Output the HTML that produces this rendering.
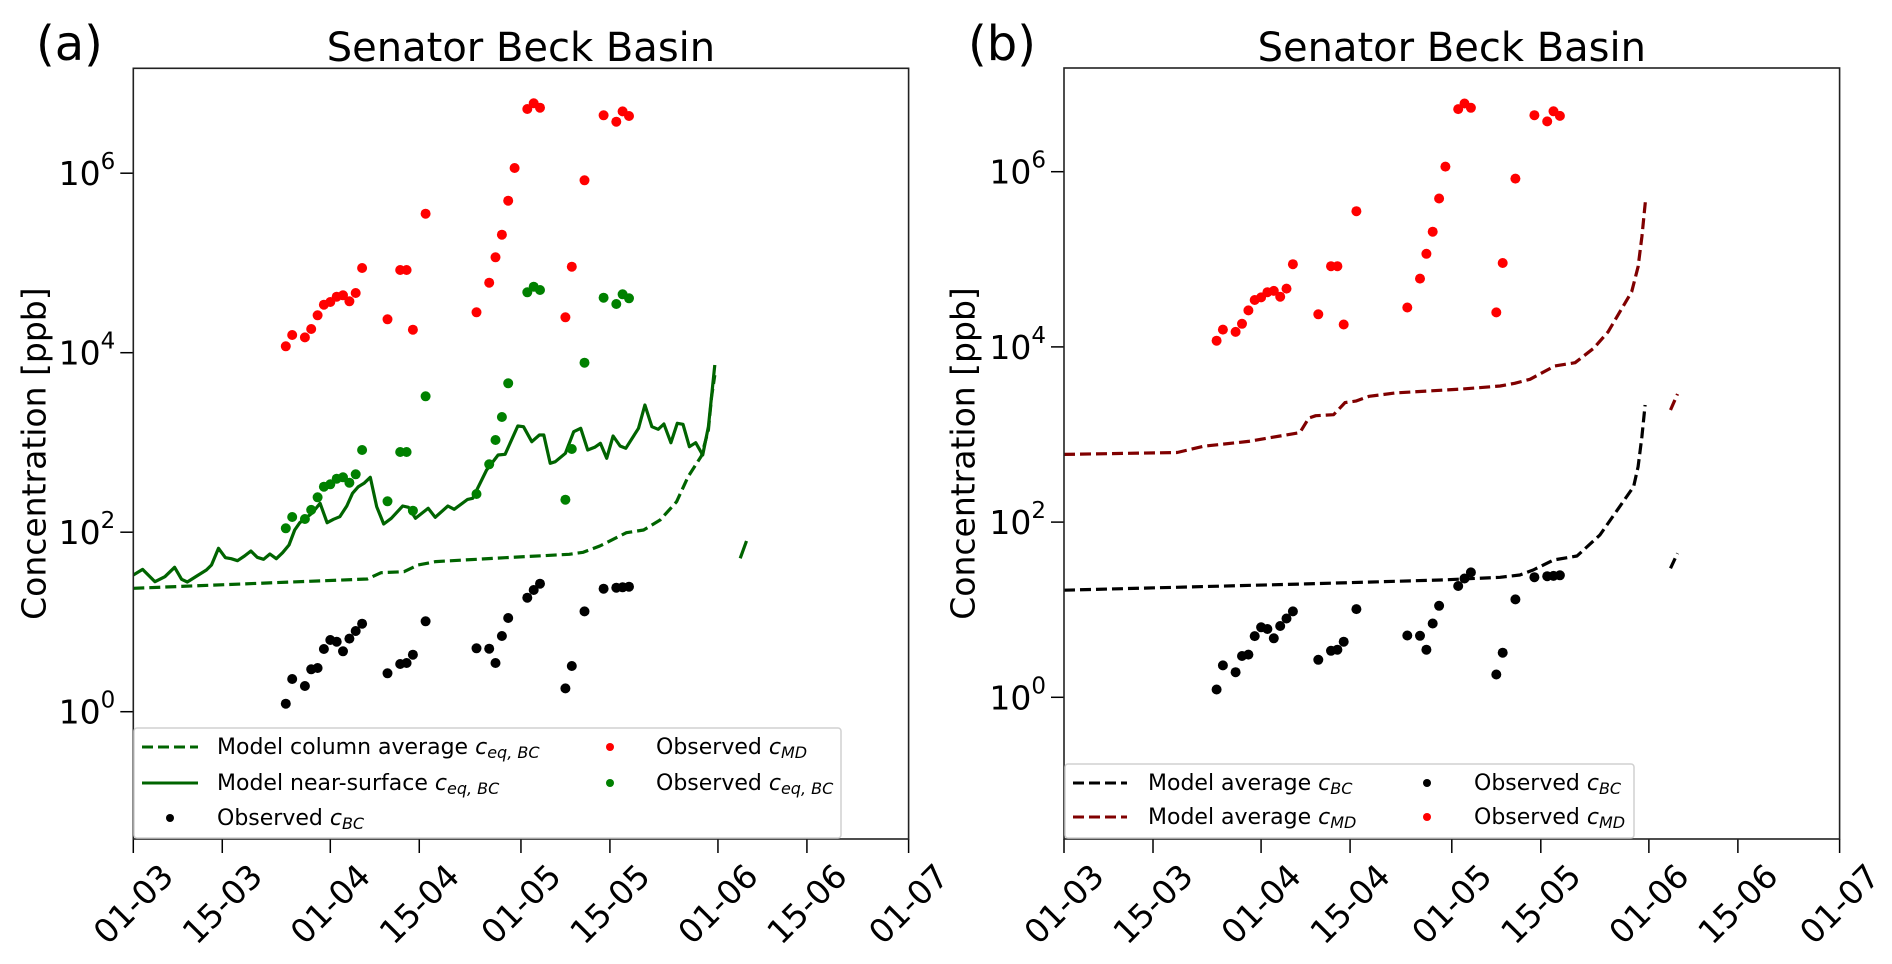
<!DOCTYPE html>
<html><head><meta charset="utf-8"><style>
html,body{margin:0;padding:0;background:#fff;}
svg{display:block;font-family:"DejaVu Sans","Liberation Sans",sans-serif;}
</style></head><body>
<svg id="chart" width="1892" height="964" viewBox="0 0 1892 964"></svg>
<script>
// ---- data (log10 of concentration in ppb; days since 01-03) ----
const tickDays = [0,14,31,45,61,75,92,106,122];
const tickLabels = ["01-03","15-03","01-04","15-04","01-05","15-05","01-06","15-06","01-07"];
const yTickExps = [0,2,4,6];
const mdDays = [24,25,27,28,29,30,31,32,33,34,35,36,40,42,43,44,46,54,56,57,58,59,60,62,63,64,68,69,71,74,76,77,78];
const mdLog = [4.071,4.197,4.171,4.264,4.417,4.535,4.565,4.624,4.639,4.573,4.665,4.944,4.372,4.921,4.921,4.256,5.549,4.450,4.780,5.063,5.315,5.694,6.058,6.715,6.779,6.730,4.394,4.958,5.921,6.645,6.574,6.689,6.637];
const bcDays = [24,25,27,28,29,30,31,32,33,34,35,36,40,42,43,44,46,54,56,57,58,59,62,63,64,68,69,71,74,76,77,78];
const bcLog = [0.089,0.364,0.286,0.472,0.487,0.699,0.799,0.780,0.673,0.814,0.899,0.981,0.428,0.531,0.543,0.635,1.007,0.706,0.702,0.543,0.843,1.044,1.270,1.356,1.426,0.260,0.509,1.118,1.371,1.382,1.386,1.393];
const eqLog = [2.043,2.169,2.147,2.248,2.389,2.507,2.534,2.596,2.612,2.552,2.645,2.916,2.344,2.894,2.894,2.240,3.514,2.426,2.757,3.027,3.284,3.659,4.673,4.735,4.699,2.362,2.927,3.889,4.613,4.543,4.651,4.606];
const surfDays = [0,1.47,3.41,4.98,6.5,7.6,8.5,10,11.5,12.3,13.4,14.5,15.4,16.4,17.5,18.5,19.5,20.5,21.5,22.5,23.5,24.5,25.4,26.2,27.1,28.1,29.4,30.5,31.5,32.5,33.6,34.5,35.4,36.3,37.3,38.3,39.4,40.6,42.4,43.3,44.4,46.4,47.5,49.5,50.5,52.6,53.4,55.6,57.4,58.5,60.5,61.4,62.7,63.9,64.6,65.6,66.4,68,69.3,70.4,71.5,72.6,73.5,74.5,75.5,76.6,77.5,79.5,80.5,81.6,82.6,83.5,84.6,85.6,86.5,87.5,88.5,89.6,90.5,91.5];
const surfLog = [1.523,1.586,1.449,1.504,1.609,1.475,1.445,1.512,1.579,1.635,1.821,1.716,1.705,1.683,1.735,1.791,1.720,1.698,1.757,1.705,1.772,1.857,2.025,2.106,2.155,2.211,2.322,2.106,2.144,2.173,2.292,2.433,2.507,2.545,2.612,2.284,2.091,2.155,2.292,2.277,2.155,2.266,2.166,2.292,2.255,2.366,2.378,2.693,2.860,2.868,3.183,3.176,3.008,3.083,3.083,2.768,2.786,2.879,3.120,3.158,2.916,2.946,2.990,2.823,3.072,2.960,2.935,3.158,3.417,3.176,3.146,3.206,2.997,3.213,3.202,2.953,2.997,2.860,3.176,3.863];
const colDays = [0,36.8,39,42.6,44.8,47.6,58.5,68.6,70.8,73.4,77.6,80.3,82.9,85.5,87.3,89.4,90.5,91,91.5];
const colLog = [1.375,1.479,1.549,1.560,1.635,1.672,1.716,1.754,1.776,1.846,1.994,2.025,2.136,2.340,2.618,2.849,3.139,3.51,3.75];
const colTailDays = [95.5,96.5];
const colTailLog = [1.709,1.902];
const mdModDays = [0,17.8,22,29,37.1,38.5,39.6,42.4,44.2,45.9,48,52.2,62.7,68.6,70.9,73.3,77.2,80.4,83.3,85.6,89.3,90.3,90.9,91.5];
const mdModLog = [2.773,2.795,2.866,2.921,3.022,3.187,3.215,3.226,3.364,3.381,3.436,3.475,3.519,3.554,3.584,3.630,3.782,3.820,3.984,4.174,4.630,4.915,5.258,5.696];
const mdTailDays = [95.4,96.5];
const mdTailLog = [3.280,3.462];
const bcModDays = [0,38.1,59.2,68.6,71.7,73.8,77.0,80.7,84.3,89.6,90.3,90.9,91.4];
const bcModLog = [1.223,1.295,1.339,1.370,1.396,1.453,1.567,1.613,1.853,2.404,2.632,2.975,3.337];
const bcTailDays = [95.4,96.5];
const bcTailLog = [1.473,1.644];

const NS = "http://www.w3.org/2000/svg";
const svg = document.getElementById('chart');
function mk(tag, attrs, parent){ const e=document.createElementNS(NS,tag); for(const k in attrs) e.setAttribute(k,attrs[k]); (parent||svg).appendChild(e); return e; }

const panels = [
 {id:'a', L:133.3, R:908.6, T:68.3, B:839, y0:711.7, dec:89.75, label:'(a)', labelX:36, ylabX:34},
 {id:'b', L:1064, R:1839.6, T:68, B:839, y0:697.3, dec:87.6, label:'(b)', labelX:968, ylabX:963}
];
panels.forEach(p=>{ p.xs = d => p.L + d*(p.R-p.L)/122; p.ys = lg => p.y0 - lg*p.dec; });

function drawLine(p, g, days, logs, color, dashed, name){
  const pts = days.map((d,i)=>p.xs(d).toFixed(1)+','+p.ys(logs[i]).toFixed(1)).join(' ');
  const l = mk('polyline',{points:pts,fill:'none',stroke:color,'stroke-width':3.2,'stroke-linejoin':'round','clip-path':'url(#clip-'+p.id+')'},g);
  if(dashed) l.setAttribute('stroke-dasharray','11 5');
  
  
}
function drawDots(p, g, days, logs, color, name){
  days.forEach((d,i)=>{
    const c = mk('circle',{cx:p.xs(d).toFixed(1),cy:p.ys(logs[i]).toFixed(1),r:5,fill:color,'clip-path':'url(#clip-'+p.id+')'},g);
    
    
  });
}

const defs = mk('defs',{});
panels.forEach(p=>{
  const cp = mk('clipPath',{id:'clip-'+p.id},defs);
  mk('rect',{x:p.L,y:p.T,width:p.R-p.L,height:p.B-p.T},cp);
  const g = mk('g',{});
  
  

  const t = mk('text',{x:(p.L+p.R)/2,y:61,'text-anchor':'middle','font-size':40,fill:'#000'},g);
  t.textContent = 'Senator Beck Basin';
  
  
  const pl = mk('text',{x:p.labelX,y:60,'font-size':48,fill:'#000'},g);
  pl.textContent = p.label;
  
  

  const yl = mk('text',{x:p.ylabX,y:(p.T+p.B)/2,'text-anchor':'middle','dominant-baseline':'central','font-size':33,transform:'rotate(-90 '+p.ylabX+' '+((p.T+p.B)/2)+')'},g);
  yl.textContent = 'Concentration [ppb]';
  
  

  yTickExps.forEach(e=>{
    const y = p.ys(e);
    mk('line',{x1:p.L-13,x2:p.L,y1:y,y2:y,stroke:'#000','stroke-width':1.5},g);
    const tx = mk('text',{x:p.L-18,y:y+12,'text-anchor':'end','font-size':33},g);
    const a = mk('tspan',{},tx); a.textContent='10';
    const b = mk('tspan',{dy:-16,'font-size':23},tx); b.textContent=String(e);
    
    
  });
  tickDays.forEach((d,i)=>{
    const x = p.xs(d);
    mk('line',{x1:x,x2:x,y1:p.B,y2:p.B+14,stroke:'#000','stroke-width':1.5},g);
    const tx = mk('text',{x:x,y:904,'text-anchor':'middle','dominant-baseline':'central','font-size':33,transform:'rotate(-45 '+x+' 904)'},g);
    tx.textContent = tickLabels[i];
    
    
  });

  if(p.id==='a'){
    drawLine(p,g,colDays,colLog,'#006400',true,'model-column-average-line');
    drawLine(p,g,colTailDays,colTailLog,'#006400',false,'model-column-average-tail');
    drawLine(p,g,surfDays,surfLog,'#006400',false,'model-near-surface-line');
    drawDots(p,g,mdDays,mdLog,'#ff0000','observed-md-point');
    drawDots(p,g,bcDays,eqLog,'#008000','observed-eq-bc-point');
    drawDots(p,g,bcDays,bcLog,'#000000','observed-bc-point');
  } else {
    drawLine(p,g,mdModDays,mdModLog,'#800000',true,'model-average-md-line');
    drawLine(p,g,mdTailDays,mdTailLog,'#800000',true,'model-average-md-tail');
    drawLine(p,g,bcModDays,bcModLog,'#000000',true,'model-average-bc-line');
    drawLine(p,g,bcTailDays,bcTailLog,'#000000',true,'model-average-bc-tail');
    drawDots(p,g,mdDays,mdLog,'#ff0000','observed-md-point');
    drawDots(p,g,bcDays,bcLog,'#000000','observed-bc-point');
  }
  const fr = mk('rect',{x:p.L,y:p.T,width:p.R-p.L,height:p.B-p.T,fill:'none',stroke:'#222','stroke-width':1.6},g);
  
  
});

function legText(g,x,y,main,sub,name){
  const t = mk('text',{x:x,y:y,'dominant-baseline':'central','font-size':22},g);
  const a = mk('tspan',{},t); a.textContent = main;
  const c = mk('tspan',{'font-style':'italic'},t); c.textContent = 'c';
  const s = mk('tspan',{'font-style':'italic','font-size':16,dy:5},t); s.textContent = sub;
  
  
}
const la = mk('g',{});


mk('rect',{x:134,y:728,width:707,height:110,rx:3,fill:'rgba(255,255,255,0.85)',stroke:'#d0d0d0','stroke-width':1.5},la);
mk('line',{x1:142,x2:198,y1:747,y2:747,stroke:'#006400','stroke-width':3,'stroke-dasharray':'11 5'},la);
legText(la,217,747,'Model column average ','eq, BC','legend-entry-column-average');
mk('line',{x1:142,x2:198,y1:783,y2:783,stroke:'#006400','stroke-width':3},la);
legText(la,217,783,'Model near-surface ','eq, BC','legend-entry-near-surface');
mk('circle',{cx:170,cy:818,r:4,fill:'#000'},la);
legText(la,217,818,'Observed ','BC','legend-entry-observed-bc');
mk('circle',{cx:610,cy:747,r:4,fill:'#ff0000'},la);
legText(la,656,747,'Observed ','MD','legend-entry-observed-md');
mk('circle',{cx:610,cy:783,r:4,fill:'#008000'},la);
legText(la,656,783,'Observed ','eq, BC','legend-entry-observed-eq-bc');
const lb = mk('g',{});


mk('rect',{x:1065,y:764,width:569,height:74,rx:3,fill:'rgba(255,255,255,0.85)',stroke:'#d0d0d0','stroke-width':1.5},lb);
mk('line',{x1:1073,x2:1127,y1:783,y2:783,stroke:'#000','stroke-width':3,'stroke-dasharray':'11 5'},lb);
legText(lb,1148,783,'Model average ','BC','legend-entry-model-bc');
mk('line',{x1:1073,x2:1127,y1:817,y2:817,stroke:'#800000','stroke-width':3,'stroke-dasharray':'11 5'},lb);
legText(lb,1148,817,'Model average ','MD','legend-entry-model-md');
mk('circle',{cx:1427,cy:783,r:4,fill:'#000'},lb);
legText(lb,1474,783,'Observed ','BC','legend-entry-observed-bc-b');
mk('circle',{cx:1427,cy:817,r:4,fill:'#ff0000'},lb);
legText(lb,1474,817,'Observed ','MD','legend-entry-observed-md-b');
</script>
</body></html>
